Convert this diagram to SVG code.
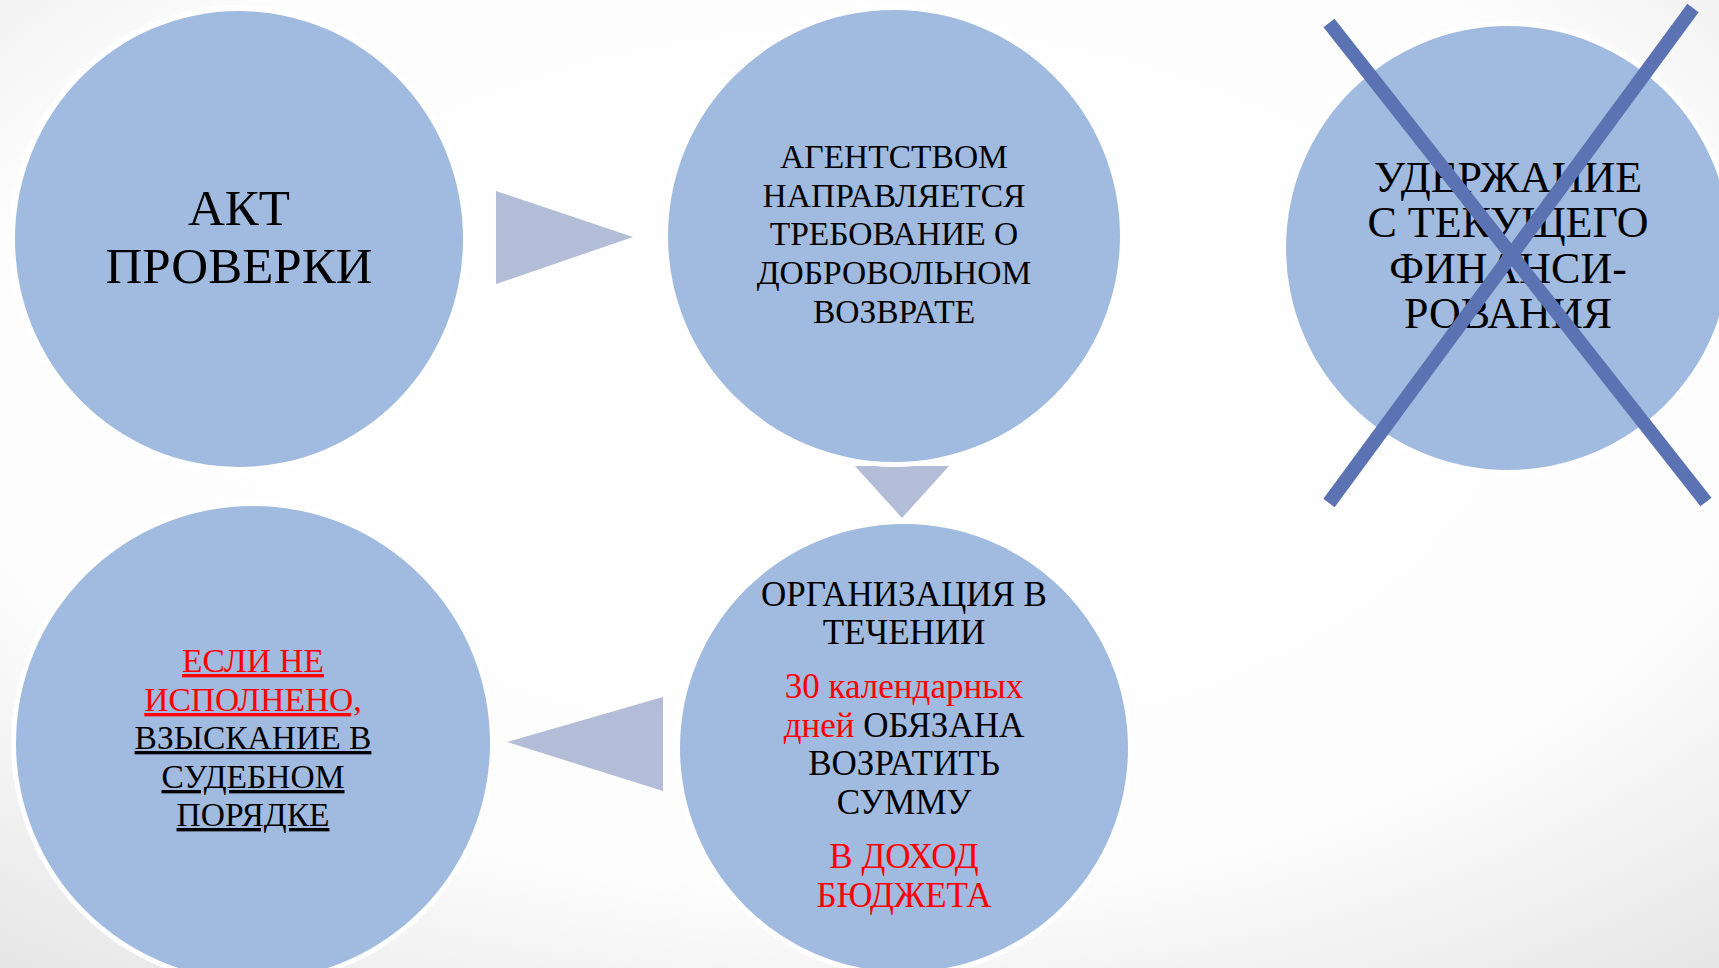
<svg xmlns="http://www.w3.org/2000/svg" width="1719" height="968" viewBox="0 0 1719 968">
<defs>
<radialGradient id="bg" cx="0.5" cy="0.4" r="0.8">
<stop offset="0" stop-color="#ffffff"/>
<stop offset="0.65" stop-color="#fdfdfd"/>
<stop offset="1" stop-color="#e4e4e4"/>
</radialGradient>
<style>
.ring{fill:#ffffff}
.node{fill:#a1badf}
.arrow{fill:#b4bdd8}
.t{font-family:"Liberation Serif","DejaVu Serif",serif;text-anchor:middle;fill:#000000}
.red{fill:#ff0000}
.u{text-decoration:underline}
.x{stroke:#5b73b2;stroke-width:14;stroke-linecap:butt}
</style>
</defs>
<rect width="1719" height="968" fill="url(#bg)"/>

<g id="connectors">
<polygon class="arrow" points="496,191 633,237 496,284"/>
<polygon class="arrow" points="855,466 949,466 902,518"/>
<polygon class="arrow" points="663,697 663,791 507,742"/>
</g>

<g id="node-akt">
<ellipse class="ring" cx="239" cy="239" rx="230" ry="234"/>
<ellipse class="node" cx="239" cy="239" rx="224" ry="228"/>
<text class="t" font-size="51" x="239" y="225">АКТ</text>
<text class="t" font-size="51" x="239" y="283">ПРОВЕРКИ</text>
</g>

<g id="node-agentstvo">
<circle class="ring" cx="894" cy="236" r="231"/>
<circle class="node" cx="894" cy="236" r="226"/>
<text class="t" font-size="33.5" x="894" y="168">АГЕНТСТВОМ</text>
<text class="t" font-size="33.5" x="894" y="207">НАПРАВЛЯЕТСЯ</text>
<text class="t" font-size="33.5" x="894" y="245">ТРЕБОВАНИЕ О</text>
<text class="t" font-size="33.5" x="894" y="284">ДОБРОВОЛЬНОМ</text>
<text class="t" font-size="33.5" x="894" y="323">ВОЗВРАТЕ</text>
</g>

<g id="node-uderzhanie">
<circle class="ring" cx="1508" cy="248" r="227"/>
<circle class="node" cx="1508" cy="248" r="222"/>
<text class="t" font-size="44" x="1508" y="192">УДЕРЖАНИЕ</text>
<text class="t" font-size="44" x="1508" y="237">С ТЕКУЩЕГО</text>
<text class="t" font-size="44" x="1508" y="283">ФИНАНСИ-</text>
<text class="t" font-size="44" x="1508" y="328">РОВАНИЯ</text>
<line class="x" x1="1329" y1="23" x2="1706" y2="502"/>
<line class="x" x1="1693" y1="8" x2="1329" y2="503"/>
</g>

<g id="node-organizaciya">
<circle class="ring" cx="904" cy="748" r="229"/>
<circle class="node" cx="904" cy="748" r="224"/>
<text class="t" font-size="35" x="904" y="606">ОРГАНИЗАЦИЯ В</text>
<text class="t" font-size="35" x="904" y="644">ТЕЧЕНИИ</text>
<text class="t red" font-size="35" x="904" y="698">30 календарных</text>
<text class="t" font-size="35" x="904" y="737"><tspan class="red">дней</tspan> ОБЯЗАНА</text>
<text class="t" font-size="35" x="904" y="775">ВОЗРАТИТЬ</text>
<text class="t" font-size="35" x="904" y="814">СУММУ</text>
<text class="t red" font-size="35" x="904" y="868">В ДОХОД</text>
<text class="t red" font-size="35" x="904" y="907">БЮДЖЕТА</text>
</g>

<g id="node-vzyskanie">
<circle class="ring" cx="253" cy="743" r="242"/>
<circle class="node" cx="253" cy="743" r="237"/>
<text class="t red u" font-size="33.5" x="253" y="672">ЕСЛИ НЕ</text>
<text class="t red u" font-size="33.5" x="253" y="711">ИСПОЛНЕНО,</text>
<text class="t u" font-size="33.5" x="253" y="749">ВЗЫСКАНИЕ В</text>
<text class="t u" font-size="33.5" x="253" y="788">СУДЕБНОМ</text>
<text class="t u" font-size="33.5" x="253" y="826">ПОРЯДКЕ</text>
</g>
</svg>
